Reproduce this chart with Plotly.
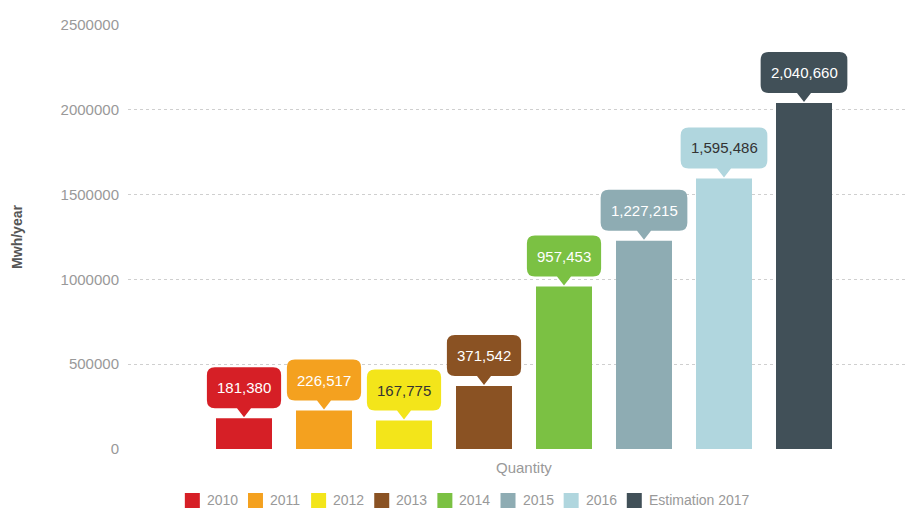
import plotly.graph_objects as go

# Annual quantity (MWh/year) per period
periods = ["2010", "2011", "2012", "2013", "2014", "2015", "2016", "Estimation 2017"]
quantities = [181380, 226517, 167775, 371542, 957453, 1227215, 1595486, 2040660]
bar_colors = ["#d61f26", "#f4a11f", "#f3e51a", "#8a5223", "#7bc143",
              "#8eacb3", "#b0d6de", "#415058"]
label_colors = ["#ffffff", "#ffffff", "#333333", "#ffffff", "#ffffff",
                "#ffffff", "#333333", "#ffffff"]
y_ticks = [0, 500000, 1000000, 1500000, 2000000, 2500000]

FONT = "Liberation Sans, Arial, sans-serif"
W, H = 906, 510
ML, MR, MT, MB = 128, 0, 25, 61
PLOT_W = W - ML - MR
PLOT_H = H - MT - MB

# approximate Arial advance widths (em units) for sizing boxes and legend rows
CHAR_EM = {",": 0.278, " ": 0.278, "E": 0.667, "s": 0.5, "t": 0.278, "i": 0.222,
           "m": 0.833, "a": 0.556, "o": 0.556, "n": 0.556}


def text_width(s, size):
    return sum(CHAR_EM.get(ch, 0.556) for ch in s) * size


fig = go.Figure()

for i, (name, val, col) in enumerate(zip(periods, quantities, bar_colors)):
    fig.add_trace(go.Bar(
        x=[i], y=[val], name=name, width=0.7,
        marker=dict(color=col, line=dict(width=0)),
        hoverinfo="skip", showlegend=False,
    ))

shapes = []
annotations = []

# value callouts: rounded box with a pointer down to each bar top
for i, (val, col, tcol) in enumerate(zip(quantities, bar_colors, label_colors)):
    label = f"{val:,}"
    half = (text_width(label, 15) + 20) / 2
    r = 8
    tip, box_b, box_t = 1, 10, 51
    tri = 7
    path = (
        f"M {-tri} {box_b} L 0 {tip} L {tri} {box_b} "
        f"L {half - r} {box_b} Q {half} {box_b} {half} {box_b + r} "
        f"L {half} {box_t - r} Q {half} {box_t} {half - r} {box_t} "
        f"L {-half + r} {box_t} Q {-half} {box_t} {-half} {box_t - r} "
        f"L {-half} {box_b + r} Q {-half} {box_b} {-half + r} {box_b} Z"
    )
    shapes.append(dict(
        type="path", path=path, xref="x", yref="y",
        xsizemode="pixel", ysizemode="pixel", xanchor=i, yanchor=val,
        fillcolor=col, line=dict(width=0), layer="above",
    ))
    annotations.append(dict(
        x=i, y=val, xref="x", yref="y", text=label, showarrow=False,
        yshift=(box_b + box_t) / 2, font=dict(family=FONT, size=15, color=tcol),
    ))

annotations.append(dict(
    x=3.5, y=0, xref="x", yref="y", text="Quantity", showarrow=False,
    yshift=-18, font=dict(family=FONT, size=15, color="#999999"),
))

# compact legend row under the axis
LEG_SIZE = 14
sq, sq_gap, item_gap = 15, 5, 12
widths = [sq + sq_gap + text_width(n, LEG_SIZE) for n in periods]
total = sum(widths) + item_gap * (len(periods) - 1)
cursor = 466 - total / 2
leg_y = 500.5
for name, col, w in zip(periods, bar_colors, widths):
    x0 = (cursor - ML) / PLOT_W
    x1 = (cursor + sq - ML) / PLOT_W
    y0 = (H - MB - (leg_y + sq / 2)) / PLOT_H
    y1 = (H - MB - (leg_y - sq / 2)) / PLOT_H
    shapes.append(dict(type="rect", xref="paper", yref="paper",
                       x0=x0, x1=x1, y0=y0, y1=y1,
                       fillcolor=col, line=dict(width=0)))
    annotations.append(dict(
        x=(cursor + sq + sq_gap - ML) / PLOT_W, y=(H - MB - leg_y) / PLOT_H,
        xref="paper", yref="paper", xanchor="left", yanchor="middle",
        text=name, showarrow=False,
        font=dict(family=FONT, size=LEG_SIZE, color="#999999"),
    ))
    cursor += w + item_gap

fig.update_layout(
    width=W, height=H,
    margin=dict(l=ML, r=MR, t=MT, b=MB),
    paper_bgcolor="white", plot_bgcolor="white",
    barmode="overlay",
    showlegend=False,
    xaxis=dict(range=[-1.45, 8.275], showticklabels=False, showgrid=False,
               zeroline=False, showline=False, ticks=""),
    yaxis=dict(range=[0, 2500000], tickvals=y_ticks,
               ticktext=[str(v) for v in y_ticks],
               showgrid=True, gridcolor="#cfcfcf", griddash="dot", gridwidth=1,
               zeroline=False, showline=False, ticks="",
               tickfont=dict(family=FONT, size=15, color="#999999"),
               ticklabelstandoff=8,
               title=dict(text="<b>Mwh/year</b>", standoff=34,
                          font=dict(family=FONT, size=14, color="#555555"))),
    shapes=shapes,
    annotations=annotations,
)

fig.write_html("out.html")
